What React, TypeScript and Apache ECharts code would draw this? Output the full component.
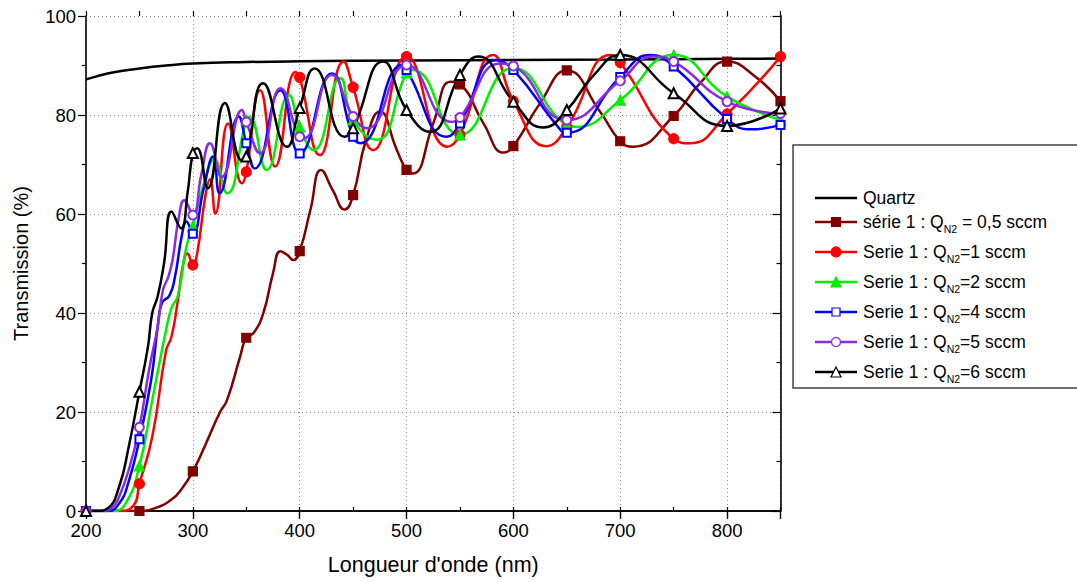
import React, { useEffect, useRef } from "react";
import * as echarts from "echarts";

// Wavelength (nm) / transmission (%)
const quartz: number[][] = [
  [200, 87.2], [210, 87.8], [225, 88.6], [250, 89.4], [275, 90.0], [300, 90.4], [350, 90.7],
  [400, 90.85], [500, 91.0], [600, 91.1], [700, 91.2], [800, 91.35], [850, 91.4],
];
const q05: number[][] = [
  [200, 0], [230, 0], [250, 0], [265, 0.6], [280, 2.3], [290, 4.6], [300, 8], [312, 13.5], [325, 19.8],
  [332, 22.4], [344, 31], [350, 35], [357, 36], [366, 40], [375, 48], [382, 52.5], [388, 51.8], [394, 50.7],
  [400, 52.5], [410, 60.8], [420, 68.9], [431, 64.8], [442, 60.9], [450, 63.8], [462, 74.9], [475, 80.7],
  [491, 72.9], [500, 68.9], [506, 68.2], [525, 78.3], [541, 86.7], [550, 86.2], [572, 78.3], [591, 72.4],
  [600, 73.7], [625, 82.4], [650, 89], [681, 80.7], [700, 74.7], [712, 73.6], [750, 79.8], [775, 86.5],
  [800, 90.8], [825, 88], [850, 82.8],
];
const q1: number[][] = [
  [200, 0], [230, 0], [244, 1], [250, 5.5], [262, 15], [275, 32.5], [280, 35.2], [286, 42.6], [291, 50],
  [295, 52], [300, 49.7], [304, 52], [312, 64], [316, 67], [321, 60.1], [333, 78.3], [346, 66.2],
  [350, 68.5], [363, 85], [377, 69.6], [396, 88.7], [400, 87.6], [419, 71.9], [441, 90.8], [450, 85.6],
  [469, 72.9], [500, 91.8], [538, 73.6], [550, 76], [581, 92.1], [600, 82.8], [631, 73.7], [650, 77.5],
  [691, 92.1], [700, 90.6], [750, 75.2], [765, 74.3], [800, 80.2], [850, 91.8],
];
const q2: number[][] = [
  [200, 0], [225, 0], [237, 1.5], [250, 9.1], [262, 22.4], [275, 36.6], [280, 41], [286, 43.5], [294, 53.4],
  [300, 57.5], [310, 66], [320, 71], [332, 64.2], [350, 79], [353, 79.6], [369, 68.9], [390, 84], [400, 77.6],
  [413, 72.9], [438, 87.4], [450, 79], [472, 75], [500, 88.5], [506, 89.1], [550, 76], [600, 89.5],
  [650, 78], [659, 77.6], [700, 83], [750, 92.1], [800, 83.7], [850, 79],
];
const q4: number[][] = [
  [200, 0], [220, 0], [231, 1.5], [240, 6], [250, 14.5], [261, 26.5], [267, 37], [271, 42], [278, 43.5],
  [283, 47], [290, 56], [294, 58.5], [300, 56], [310, 65], [319, 71.6], [325, 64.2], [343, 79.7],
  [350, 74.3], [358, 69.2], [382, 85], [400, 72.2], [430, 88.4], [450, 75.6], [457, 74.3], [496, 90.1],
  [500, 89.1], [538, 75.6], [550, 78.3], [584, 91.1], [600, 89.1], [644, 77], [650, 76.4], [700, 87.7],
  [728, 92.1], [750, 89.8], [800, 79.2], [822, 77.1], [850, 78],
];
const q5: number[][] = [
  [200, 0], [215, 0], [225, 0.8], [231, 2.9], [240, 8.3], [250, 16.9], [259, 28.5], [267, 37.2],
  [272, 44.6], [277, 47.3], [281, 50.7], [287, 59.5], [292, 62.8], [300, 59.8], [308, 68], [316, 74.3],
  [327, 67.5], [346, 81], [350, 78.6], [363, 72.3], [382, 85.4], [400, 75.6], [404, 75.3], [430, 88.1],
  [450, 79.7], [463, 77.3], [500, 90.1], [542, 78.6], [550, 79.5], [588, 90.4], [600, 89.9], [650, 79],
  [700, 86.9], [731, 91.8], [750, 90.8], [800, 82.7], [850, 80.3],
];
const q6: number[][] = [
  [200, 0], [210, 0], [220, 0.5], [231, 4.9], [240, 13], [250, 24.1], [258, 33.2], [262, 40], [267, 43.3],
  [273, 50], [280, 60.5], [289, 57.1], [295, 64.2], [300, 72.3], [304, 73.3], [314, 65.2], [330, 82.4],
  [346, 70.8], [350, 71.6], [366, 86.4], [388, 73.6], [400, 81.4], [414, 89.4], [442, 75.6], [450, 77.3],
  [478, 90.8], [500, 81], [522, 76.6], [550, 88.1], [567, 91.8], [600, 82.7], [628, 77.5], [650, 81],
  [675, 88], [700, 92.1], [750, 84.4], [800, 77.8], [850, 81.3],
];

const xTicks = [200, 300, 400, 500, 600, 700, 800];
const yTicks = [0, 20, 40, 60, 80, 100];

const FONT = "'Liberation Sans', Arial, sans-serif";

type Spec = {
  name: string;
  data: number[][];
  color: string;
  symbol: string;
  size: number;
  legendMain?: string;
  legendRest?: string;
};

const specs: Spec[] = [
  { name: "Quartz", data: quartz, color: "#000000", symbol: "none", size: 0 },
  { name: "série 1 : QN2 = 0,5 sccm", data: q05, color: "#800000", symbol: "rect", size: 9, legendMain: "série 1 : Q", legendRest: " = 0,5 sccm" },
  { name: "Serie 1 : QN2=1 sccm", data: q1, color: "#ff0000", symbol: "circle", size: 10, legendMain: "Serie 1 : Q", legendRest: "=1 sccm" },
  { name: "Serie 1 : QN2=2 sccm", data: q2, color: "#00ee00", symbol: "triangle", size: 10, legendMain: "Serie 1 : Q", legendRest: "=2 sccm" },
  { name: "Serie 1 : QN2=4 sccm", data: q4, color: "#0000ff", symbol: "emptyRect", size: 8, legendMain: "Serie 1 : Q", legendRest: "=4 sccm" },
  { name: "Serie 1 : QN2=5 sccm", data: q5, color: "#8a2be2", symbol: "emptyCircle", size: 9, legendMain: "Serie 1 : Q", legendRest: "=5 sccm" },
  { name: "Serie 1 : QN2=6 sccm", data: q6, color: "#000000", symbol: "emptyTriangle", size: 10, legendMain: "Serie 1 : Q", legendRest: "=6 sccm" },
];

function legendGraphics() {
  const els: any[] = [];
  els.push({
    type: "rect",
    shape: { x: 793, y: 145, width: 400, height: 243 },
    style: { fill: "#ffffff", stroke: "#444444", lineWidth: 1.5 },
    z: 50,
  });
  const rows = [198, 222, 252, 282, 312, 342, 372];
  specs.forEach((s, i) => {
    const cy = rows[i];
    els.push({
      type: "line",
      shape: { x1: 815, y1: cy, x2: 857, y2: cy },
      style: { stroke: s.color, lineWidth: 2.5 },
      z: 51,
    });
    const cx = 836;
    const empty = s.symbol.startsWith("empty");
    const fill = empty ? "#ffffff" : s.color;
    const sym = s.symbol.replace("empty", "").toLowerCase();
    const st = { fill, stroke: s.color, lineWidth: 1.2 };
    if (sym === "rect") {
      els.push({ type: "rect", shape: { x: cx - s.size / 2, y: cy - s.size / 2, width: s.size, height: s.size }, style: st, z: 52 });
    } else if (sym === "circle") {
      els.push({ type: "circle", shape: { cx, cy, r: s.size / 2 }, style: st, z: 52 });
    } else if (sym === "triangle") {
      const h = s.size;
      els.push({
        type: "polygon",
        shape: { points: [[cx, cy - h / 2], [cx + h / 2, cy + h / 2], [cx - h / 2, cy + h / 2]] },
        style: st,
        z: 52,
      });
    }
    const text = s.legendMain
      ? `{a|${s.legendMain}}{s|N2}{a|${s.legendRest}}`
      : `{a|${s.name}}`;
    els.push({
      type: "text",
      x: 863,
      y: cy,
      style: {
        text,
        verticalAlign: "middle",
        align: "left",
        rich: {
          a: { fontSize: 17.5, fontFamily: FONT, fill: "#000", lineHeight: 24, verticalAlign: "middle" },
          s: { fontSize: 10.5, fontFamily: FONT, fill: "#000", lineHeight: 8, verticalAlign: "bottom" },
        },
      },
      z: 52,
    });
  });
  return els;
}

export default function App() {
  const ref = useRef<HTMLDivElement>(null);
  useEffect(() => {
    if (!ref.current) return;
    const chart = echarts.init(ref.current, undefined, { renderer: "svg" });
    const axisLine = { show: true, lineStyle: { color: "#000", width: 1.6 } };
    const series: any[] = specs.map((s) => ({
      name: s.name,
      type: "line",
      smooth: 0.5,
      symbol: s.symbol,
      symbolSize: s.size,
      showSymbol: s.symbol !== "none",
      showAllSymbol: true,
      xAxisIndex: 0,
      yAxisIndex: 0,
      lineStyle: { color: s.color, width: 2.5 },
      itemStyle: { color: s.color, borderColor: s.color, borderWidth: 1.2 },
      data: s.data.map(([x, y]) =>
        x % 50 === 0 && s.symbol !== "none" ? [x, y] : { value: [x, y], symbol: "none" }
      ),
      z: 3,
    }));
    chart.setOption({
      animation: false,
      backgroundColor: "#ffffff",
      grid: { left: 86, right: 296.5, top: 16, bottom: 71, containLabel: false },
      xAxis: [
        {
          type: "value", position: "bottom", min: 200, max: 850, interval: 100,
          axisLine,
          axisTick: { show: true, length: 8, inside: false, lineStyle: { color: "#000", width: 1.2 } },
          axisLabel: {
            show: true, margin: 10, fontSize: 18.5, fontFamily: FONT, color: "#000",
            formatter: (v: number) => (xTicks.includes(v) ? String(v) : ""),
          },
          splitLine: { show: true, lineStyle: { color: "#888", type: [1, 3], width: 1 } },
          name: "Longueur d'onde (nm)", nameLocation: "middle", nameGap: 43,
          nameTextStyle: { fontSize: 21.5, fontFamily: FONT, color: "#000" },
        },
        {
          type: "value", position: "top", min: 200, max: 850, interval: 100,
          axisLine,
          axisTick: { show: true, length: 8, inside: true, lineStyle: { color: "#000", width: 1.2 } },
          axisLabel: { show: false }, splitLine: { show: false },
        },
        {
          type: "value", position: "bottom", min: 200, max: 850, interval: 50,
          axisLine: { show: false },
          axisTick: { show: true, length: 4, inside: true, lineStyle: { color: "#000", width: 1.2 } },
          axisLabel: { show: false }, splitLine: { show: false },
        },
        {
          type: "value", position: "top", min: 200, max: 850, interval: 50,
          axisLine: { show: false },
          axisTick: { show: true, length: 5, inside: false, lineStyle: { color: "#000", width: 1.2 } },
          axisLabel: { show: false }, splitLine: { show: false },
        },
      ],
      yAxis: [
        {
          type: "value", position: "left", min: 0, max: 100, interval: 20,
          axisLine,
          axisTick: { show: true, length: 8, inside: false, lineStyle: { color: "#000", width: 1.2 } },
          minorTick: { show: true, splitNumber: 2, length: 4, lineStyle: { color: "#000", width: 1.2 } },
          axisLabel: {
            show: true, margin: 10, fontSize: 18.5, fontFamily: FONT, color: "#000",
            formatter: (v: number) => (yTicks.includes(v) ? String(v) : ""),
          },
          splitLine: { show: true, lineStyle: { color: "#888", type: [1, 3], width: 1 } },
          name: "Transmission (%)", nameLocation: "middle", nameGap: 55, nameRotate: 90,
          nameTextStyle: { fontSize: 20, fontFamily: FONT, color: "#000" },
        },
        {
          type: "value", position: "right", min: 0, max: 100, interval: 20,
          axisLine,
          axisTick: { show: true, length: 8, inside: true, lineStyle: { color: "#000", width: 1.2 } },
          minorTick: { show: true, splitNumber: 2, length: 4, lineStyle: { color: "#000", width: 1.2 } },
          axisLabel: { show: false }, splitLine: { show: false },
        },
      ],
      series,
      graphic: legendGraphics(),
    });
    return () => chart.dispose();
  }, []);
  return (
    <div
      ref={ref}
      style={{ position: "fixed", left: 0, top: 0, width: 1077, height: 582, background: "#fff" }}
    />
  );
}
